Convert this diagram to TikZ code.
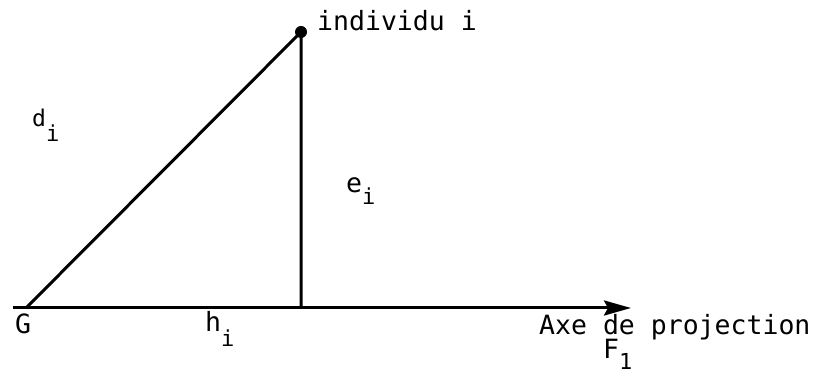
\documentclass[tikz,border=0pt]{standalone}
\usepackage{fontspec}
\setmainfont{DejaVu Sans Mono}
\usetikzlibrary{arrows.meta}
\newcommand\lowsub[2][14pt]{\raisebox{-#1}{\fontsize{22}{22}\selectfont #2}}
\begin{document}
\begin{tikzpicture}[x=1pt,y=1pt,
  lbl/.style={anchor=base west, inner sep=0pt, font=\fontsize{26.5}{26.5}\selectfont},
  edge/.style={line width=3pt}]
\useasboundingbox (0,0) rectangle (819,377);
\coordinate (G) at (26,69);
\coordinate (P) at (301,345);
\coordinate (H) at (301,69);
\coordinate (A0) at (13,69);
\coordinate (A1) at (631,69);
\draw[edge, line join=miter] (G) -- (P) -- (H);
\draw[edge, -{Stealth[length=27pt,width=15pt,inset=4pt]}] (A0) -- (A1);
\fill (P) circle (6);
\node[lbl] (ind) at (317,346) {individu i};
\node[lbl] (gl) at (15,43) {G};
\node[lbl, font=\fontsize{23}{23}\selectfont] (dl) at (32,250) {d\lowsub[15pt]{i}};
\node[lbl] (el) at (346,184) {e\lowsub[12pt]{i}};
\node[lbl] (hl) at (205,45) {h\lowsub[15pt]{i}};
\node[lbl] (axe) at (539,42) {Axe de projection};
\node[lbl] (fl) at (603,18) {F\lowsub[11pt]{1}};
\end{tikzpicture}
\end{document}
